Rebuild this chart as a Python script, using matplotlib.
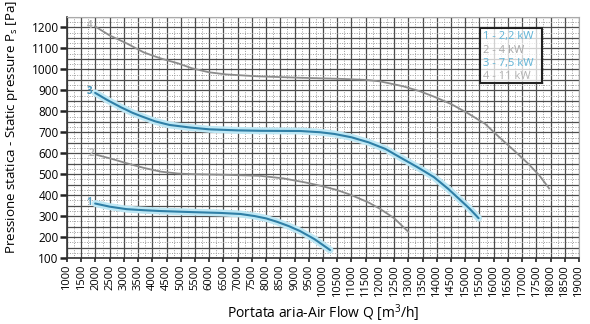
import matplotlib
matplotlib.use("Agg")
import matplotlib.pyplot as plt
from matplotlib.ticker import MultipleLocator
from matplotlib.patches import Rectangle

plt.rcParams['font.family'] = ['Open Sans', 'DejaVu Sans']

# Fan curves: air flow Q [m3/h] vs static pressure Ps [Pa]
q1 = [1990, 2500, 3100, 3700, 4300, 5400, 6400, 7100, 7600, 8000, 8400, 8800, 9200, 9700, 10250]
p1 = [360, 345, 333, 328, 324, 319, 315, 310, 300, 289, 272, 252, 228, 190, 138]

q2 = [2050, 2600, 3100, 3700, 4300, 4900, 5400, 6600, 7800, 8600, 9400, 10000, 10500,
      11000, 11600, 12000, 12500, 13000]
p2 = [592, 572, 552, 530, 512, 503, 500, 497, 492, 480, 460, 442, 424, 400, 365, 335,
      290, 225]

q3 = [1990, 2400, 2900, 3300, 3600, 4100, 4600, 5300, 6000, 7000, 7800, 9200, 9900,
      10400, 11000, 11600, 12200, 12700, 13300, 13900, 14400, 14800, 15150, 15470]
p3 = [888, 855, 819, 793, 777, 752, 735, 723, 714, 709, 707, 706, 700, 692, 676, 652,
      620, 581, 535, 486, 430, 380, 336, 290]

q4 = [1990, 2500, 3100, 3700, 4300, 4900, 5400, 6000, 6600, 7700, 9200, 10600, 11500,
      12000, 12800, 13400, 13900, 14500, 15100, 15700, 16200, 16700, 17200, 17600, 17950]
p4 = [1205, 1162, 1124, 1081, 1052, 1029, 1005, 986, 976, 967, 960, 955, 950, 943, 920,
      896, 870, 835, 790, 740, 676, 615, 552, 495, 432]

x_ticks = list(range(1000, 19001, 500))
y_ticks = list(range(100, 1201, 100))
legend_lines = ["1 - 2,2 kW", "2 - 4 kW", "3 - 7,5 kW", "4 - 11 kW"]

BLUE = "#2f7fa6"
HALO = "#bfe8f5"
GRAY = "#8c8c8c"

fig = plt.figure(figsize=(5.9, 3.24), dpi=100)
ax = fig.add_axes([67 / 590, 1 - 258 / 324, (579 - 67) / 590, (258 - 17) / 324])
ax.set_xlim(1000, 19000)
ax.set_ylim(100, 1250)

# Grid: dark lines on 500 / 50, dotted lines in between
for x in range(1000, 19001, 500):
    ax.axvline(x, color="#4d4d4d", lw=0.9, zorder=1)
for x in range(1250, 19000, 500):
    ax.axvline(x, color="#9a9a9a", lw=0.7, ls=(0, (1, 1.5)), zorder=1)
for y in range(100, 1251, 50):
    ax.axhline(y, color="#4d4d4d", lw=0.9, zorder=1)
for y in range(125, 1250, 50):
    ax.axhline(y, color="#9a9a9a", lw=0.7, ls=(0, (1, 1.5)), zorder=1)

ax.set_xticks(x_ticks)
ax.set_xticklabels([str(v) for v in x_ticks], rotation=90, fontsize=8)
ax.set_yticks(y_ticks)
ax.set_yticklabels([str(v) for v in y_ticks], fontsize=8.5)
ax.xaxis.set_minor_locator(MultipleLocator(250))
ax.tick_params(axis="y", which="major", length=5, width=1.8, color="#222222", pad=1)
ax.tick_params(axis="x", which="major", length=3, width=1.2, color="#222222", pad=2)
ax.tick_params(which="minor", length=0)

for side in ["left", "bottom"]:
    ax.spines[side].set_color("#333333")
    ax.spines[side].set_linewidth(1.2)
for side in ["top", "right"]:
    ax.spines[side].set_color("#aaaaaa")
    ax.spines[side].set_linewidth(0.8)

# Curves
for q, p in [(q1, p1), (q3, p3)]:
    ax.plot(q, p, color=HALO, lw=5, solid_capstyle="round", solid_joinstyle="round", zorder=3)
    ax.plot(q, p, color=BLUE, lw=1.5, solid_capstyle="round", solid_joinstyle="round", zorder=4)
for q, p in [(q2, p2), (q4, p4)]:
    ax.plot(q, p, color=GRAY, lw=1.3, solid_joinstyle="round", zorder=4)

# Curve numbers at the start of each curve
for cid, q, p, col in [("1", q1, p1, "#5a9fc0"), ("2", q2, p2, "#b5b5b5"),
                       ("3", q3, p3, "#3f8fb5"), ("4", q4, p4, "#b5b5b5")]:
    ax.text(q[0] - 100, p[0] + 5, cid, color=col, fontsize=7, fontweight="bold",
            ha="right", va="center", zorder=5)

# Legend box
box = Rectangle((480 / 590, 1 - 83 / 324), 62 / 590, 55 / 324, transform=fig.transFigure,
                facecolor="white", alpha=0.75, edgecolor="none", zorder=5)
fig.add_artist(box)
frame = Rectangle((480 / 590, 1 - 83 / 324), 62 / 590, 55 / 324, transform=fig.transFigure,
                  facecolor="none", edgecolor="#222222", lw=1.5, zorder=6)
fig.add_artist(frame)
leg_colors = ["#5fb3d6", "#a8a8a8", "#5fb3d6", "#b0b0b0"]
for i, (txt, col) in enumerate(zip(legend_lines, leg_colors)):
    fig.text(483 / 590, 1 - (37 + 13.3 * i) / 324, txt, color=col, fontsize=8,
             ha="left", va="center", zorder=7)

ax.set_xlabel("Portata aria-Air Flow Q [m$^\\mathregular{3}$/h]", fontsize=10, labelpad=4)
fig.text(12 / 590, 1 - 127 / 324, "Pressione statica - Static pressure P$_\\mathregular{s}$ [Pa]",
         rotation=90, fontsize=9.6, ha="center", va="center")

fig.savefig("out.png", dpi=100)
